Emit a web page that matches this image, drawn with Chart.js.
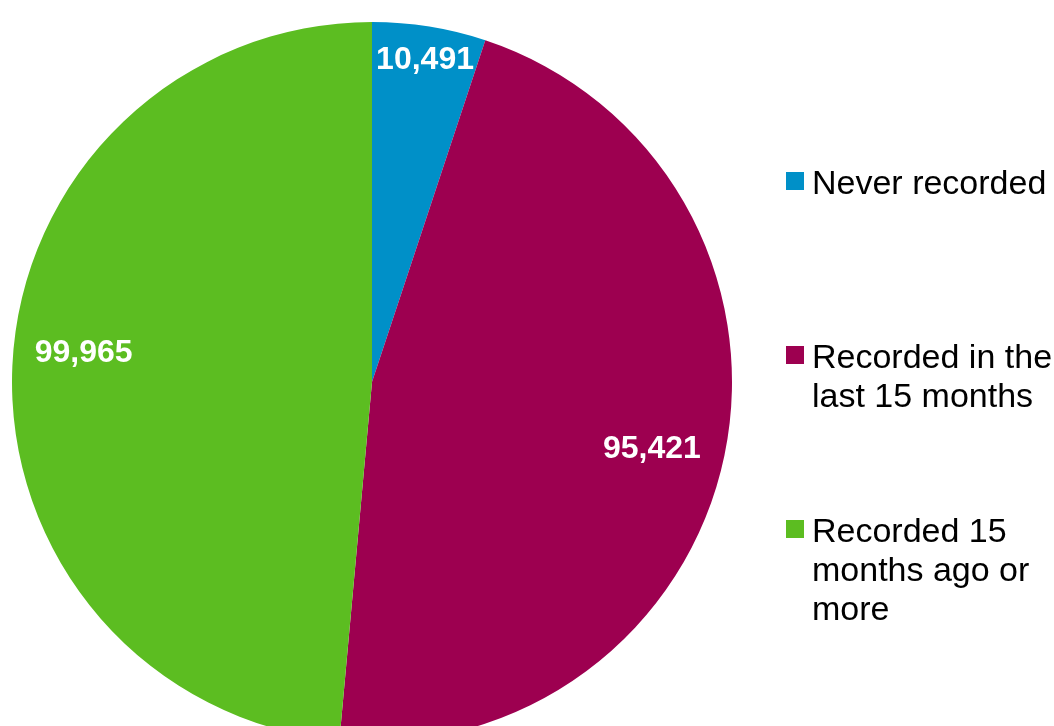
<!DOCTYPE html>
<html>
<head>
<meta charset="utf-8">
<script src="https://cdn.jsdelivr.net/npm/chart.js@4.4.0/dist/chart.umd.min.js"></script>
<style>
  html, body { margin: 0; padding: 0; background: #fff; overflow: hidden; }
  #wrap { position: relative; width: 1054px; height: 726px; overflow: hidden; }
  #myChart { position: absolute; left: 0; top: 0; }
  .legend-item { position: absolute; left: 786px; font-family: Arial, "Liberation Sans", sans-serif; font-size: 34px; line-height: 39px; color: #000; }
  .legend-item .box { position: absolute; left: 0; width: 18px; height: 18px; }
  .legend-item .text { position: absolute; left: 26px; white-space: nowrap; }
</style>
</head>
<body>
<div id="wrap">
  <canvas id="myChart" width="1054" height="760"></canvas>
  <div id="legend"></div>
</div>
<script>
const categories = ['Never recorded', 'Recorded in the last 15 months', 'Recorded 15 months ago or more'];
const legendLines = [['Never recorded'], ['Recorded in the', 'last 15 months'], ['Recorded 15', 'months ago or', 'more']];
const values = [10491, 95421, 99965];
const colors = ['#0090c8', '#9d0050', '#5cbd21'];

// where each value label sits inside its slice: share of radius, angle nudge in degrees
const labelRadius = [0.905, 0.8, 0.805];
const labelNudge = [0.2, 1.8, 3.1];

const valueLabels = {
    id: 'valueLabels',
    afterDatasetsDraw(chart) {
        const ctx = chart.ctx;
        const arcs = chart.getDatasetMeta(0).data;
        ctx.save();
        ctx.fillStyle = '#fff';
        ctx.font = 'bold 32px Arial, "Liberation Sans", sans-serif';
        ctx.textAlign = 'center';
        ctx.textBaseline = 'middle';
        arcs.forEach((arc, i) => {
            const p = arc.getProps(['x', 'y', 'startAngle', 'endAngle', 'outerRadius'], true);
            const mid = (p.startAngle + p.endAngle) / 2 + labelNudge[i] * Math.PI / 180;
            const r = p.outerRadius * labelRadius[i];
            ctx.fillText(values[i].toLocaleString('en-GB'), p.x + Math.cos(mid) * r, p.y + Math.sin(mid) * r);
        });
        ctx.restore();
    }
};

const ctx = document.getElementById('myChart').getContext('2d');
const myChart = new Chart(ctx, {
    type: 'pie',
    data: {
        labels: categories,
        datasets: [{
            data: values,
            backgroundColor: colors,
            borderWidth: 0
        }]
    },
    options: {
        responsive: false,
        animation: false,
        layout: { padding: { left: 12, top: 22, right: 322, bottom: 18 } },
        plugins: {
            legend: { display: false },
            tooltip: { enabled: false }
        }
    },
    plugins: [valueLabels]
});

// legend on the right, one block per category
const legendTops = [163, 337, 511];
const legend = document.getElementById('legend');
categories.forEach((name, i) => {
    const item = document.createElement('div');
    item.className = 'legend-item';
    item.style.top = legendTops[i] + 'px';
    const box = document.createElement('div');
    box.className = 'box';
    box.style.background = colors[i];
    box.style.top = '9px';
    const text = document.createElement('div');
    text.className = 'text';
    text.innerHTML = legendLines[i].join('<br>');
    item.appendChild(box);
    item.appendChild(text);
    legend.appendChild(item);
});
</script>
</body>
</html>
